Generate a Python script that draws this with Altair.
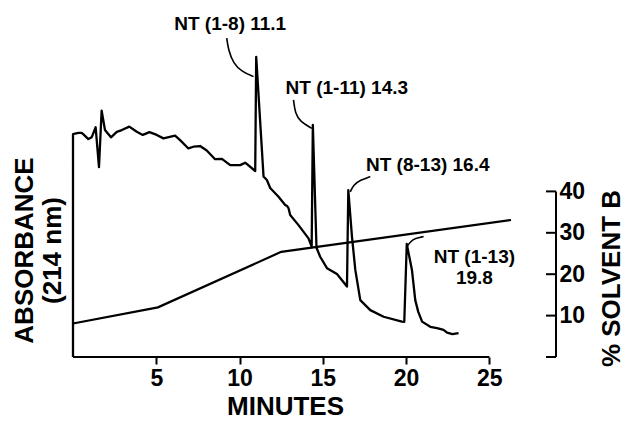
import altair as alt
import pandas as pd

FONT = "Liberation Sans"

# ---- chromatogram trace (minutes, absorbance in arbitrary units 0-100) ----
trace_min = [0.0, 0.0, 0.32, 0.52, 0.66, 0.92, 1.12, 1.36, 1.56, 1.72, 1.92, 2.28,
             2.63, 2.93, 3.38, 3.83, 4.19, 4.59, 5.03, 5.43, 6.13, 6.43, 6.93, 7.23,
             7.63, 8.03, 8.53, 8.94, 9.44, 10.04, 10.34, 10.94, 11.0, 11.44, 11.64,
             11.84, 12.34, 12.74, 12.86, 12.94, 13.04, 13.54, 14.14, 14.33, 14.40,
             14.62, 14.84, 15.25, 15.85, 16.45, 16.53, 16.75, 16.95, 17.25, 17.85,
             18.65, 19.75, 19.89, 20.04, 20.35, 20.55, 20.73, 20.96, 21.45, 21.86,
             22.25, 22.46, 22.78, 23.15]
trace_abs = [0.0, 64.2, 64.6, 64.6, 64.0, 62.8, 63.3, 66.2, 54.7, 71.0, 65.4, 63.3,
             64.9, 65.4, 66.4, 64.9, 64.0, 64.8, 64.0, 63.0, 63.8, 62.5, 60.1, 60.6,
             60.8, 59.5, 57.0, 57.1, 55.3, 55.3, 56.0, 53.6, 86.5, 52.0, 51.0,
             48.7, 46.2, 43.8, 43.5, 42.9, 40.9, 38.0, 34.2, 31.8, 66.9,
             31.5, 28.9, 25.6, 23.9, 20.3, 48.1, 34.7, 25.1, 16.4, 13.5,
             11.6, 10.2, 10.1, 32.6, 25.1, 16.4, 13.0, 10.2, 8.7, 8.3,
             7.8, 7.0, 6.6, 6.9]

# ---- solvent gradient (% solvent B) ----
solvent_min = [0.0, 5.1, 12.5, 26.3]
solvent_pct = [8.1, 12.0, 25.4, 33.1]

# ---- peak annotations ----
label_text = ["NT (1-8) 11.1", "NT (1-11) 14.3", "NT (8-13) 16.4", "NT (1-13)\n19.8"]
label_min = [9.44, 16.44, 21.30, 24.10]
label_abs = [96.0, 77.5, 55.3, 28.8]

leader_group = [1, 1, 1, 1, 1, 2, 2, 2, 2, 3, 3, 3, 3, 4, 4, 4, 4]
leader_min = [9.23, 9.33, 9.63, 10.14, 10.84,
              13.24, 13.34, 13.64, 14.34,
              17.85, 17.25, 16.84, 16.65,
              21.05, 20.55, 20.25, 20.05]
leader_abs = [91.9, 88.5, 84.6, 82.2, 80.8,
              74.1, 70.2, 67.8, 65.9,
              52.0, 51.0, 49.6, 47.6,
              34.7, 34.2, 33.2, 31.8]

# ---- axes ----
x_ticks = [5, 10, 15, 20, 25]
x_axis_end = 25
pct_ticks = [10, 20, 30, 40]
pct_bracket = [0, 10, 20, 30, 40]
x_max = 29

trace_df = pd.DataFrame({"t": trace_min, "a": trace_abs, "i": range(len(trace_min))})
solv_df = pd.DataFrame({"t": solvent_min, "p": solvent_pct, "i": range(len(solvent_min))})
lab_df = pd.DataFrame({"t": label_min, "a": label_abs, "txt": label_text})
lead_df = pd.DataFrame({"t": leader_min, "a": leader_abs, "g": leader_group,
                        "i": range(len(leader_min))})
xrule_df = pd.DataFrame({"t0": [0], "t1": [x_axis_end], "a": [0]})
rdom_df = pd.DataFrame({"t": [x_max], "p0": [0], "p1": [40]})
rtick_df = pd.DataFrame({"t0": [x_max - 0.6] * len(pct_bracket),
                         "t1": [x_max] * len(pct_bracket), "p": pct_bracket})

x_scale = alt.Scale(domain=[0, x_max], nice=False, zero=False)
abs_scale = alt.Scale(domain=[0, 100], nice=False)
pct_scale = alt.Scale(domain=[0, 347 / 4.14], nice=False)

x_axis = alt.Axis(values=x_ticks, domain=False, grid=False, tickSize=7, tickWidth=2,
                  tickColor="black", labelFont=FONT, labelFontSize=23,
                  labelFontWeight="bold", labelColor="black", labelPadding=3,
                  title="MINUTES", titleFont=FONT, titleFontSize=26,
                  titleFontWeight="bold", titleColor="black", titleX=212, titleY=49,
                  titleAlign="center", titleBaseline="middle")
abs_axis = alt.Axis(orient="left", domain=False, ticks=False, labels=False, grid=False,
                    title=["ABSORBANCE", "(214 nm)"], titleFont=FONT, titleFontSize=26,
                    titleFontWeight="bold", titleColor="black", titleAngle=270,
                    titleX=-49, titleY=240, titleAlign="center",
                    titleBaseline="middle", titleLineHeight=28)
pct_axis = alt.Axis(orient="right", values=pct_ticks, domain=False, ticks=False,
                    grid=False, labelFont=FONT, labelFontSize=23, labelFontWeight="bold",
                    labelColor="black", labelPadding=3,
                    title="% SOLVENT B", titleFont=FONT, titleFontSize=26,
                    titleFontWeight="bold", titleColor="black", titleAngle=270,
                    titleX=55, titleY=268, titleAlign="center", titleBaseline="middle")

X = lambda f: alt.X(f, scale=x_scale, axis=x_axis)
YA = lambda f: alt.Y(f, scale=abs_scale, axis=abs_axis)
YP = lambda f: alt.Y(f, scale=pct_scale, axis=pct_axis)

trace = alt.Chart(trace_df).mark_line(color="black", strokeWidth=2.3,
                                      strokeJoin="round").encode(
    x=X("t:Q"), y=YA("a:Q"), order=alt.Order("i:Q"))
leaders = alt.Chart(lead_df).mark_line(color="black", strokeWidth=1.6,
                                       interpolate="basis").encode(
    x=X("t:Q"), y=YA("a:Q"), detail="g:N", order=alt.Order("i:Q"))
labels = alt.Chart(lab_df).mark_text(font=FONT, fontSize=19, fontWeight="bold",
                                     color="black", lineBreak="\n", lineHeight=21,
                                     align="center", baseline="middle").encode(
    x=X("t:Q"), y=YA("a:Q"), text="txt:N")
xrule = alt.Chart(xrule_df).mark_rule(color="black", strokeWidth=2).encode(
    x=X("t0:Q"), x2="t1", y=YA("a:Q"))

abs_group = alt.layer(trace, leaders, labels, xrule)

solvent = alt.Chart(solv_df).mark_line(color="black", strokeWidth=2.2).encode(
    x=X("t:Q"), y=YP("p:Q"), order=alt.Order("i:Q"))
rdom = alt.Chart(rdom_df).mark_rule(color="black", strokeWidth=2).encode(
    x=X("t:Q"), y=YP("p0:Q"), y2="p1")
rticks = alt.Chart(rtick_df).mark_rule(color="black", strokeWidth=2).encode(
    x=X("t0:Q"), x2="t1", y=YP("p:Q"))

pct_group = alt.layer(solvent, rdom, rticks)

chart = alt.layer(abs_group, pct_group).resolve_scale(y="independent").properties(
    width=483, height=347,
    padding={"left": 65, "top": 2, "right": 68, "bottom": 66},
    autosize=alt.AutoSizeParams(type="none"),
    background="white",
).configure_view(stroke=None)

chart.save("out.html", embed_options={"renderer": "svg", "actions": False})
